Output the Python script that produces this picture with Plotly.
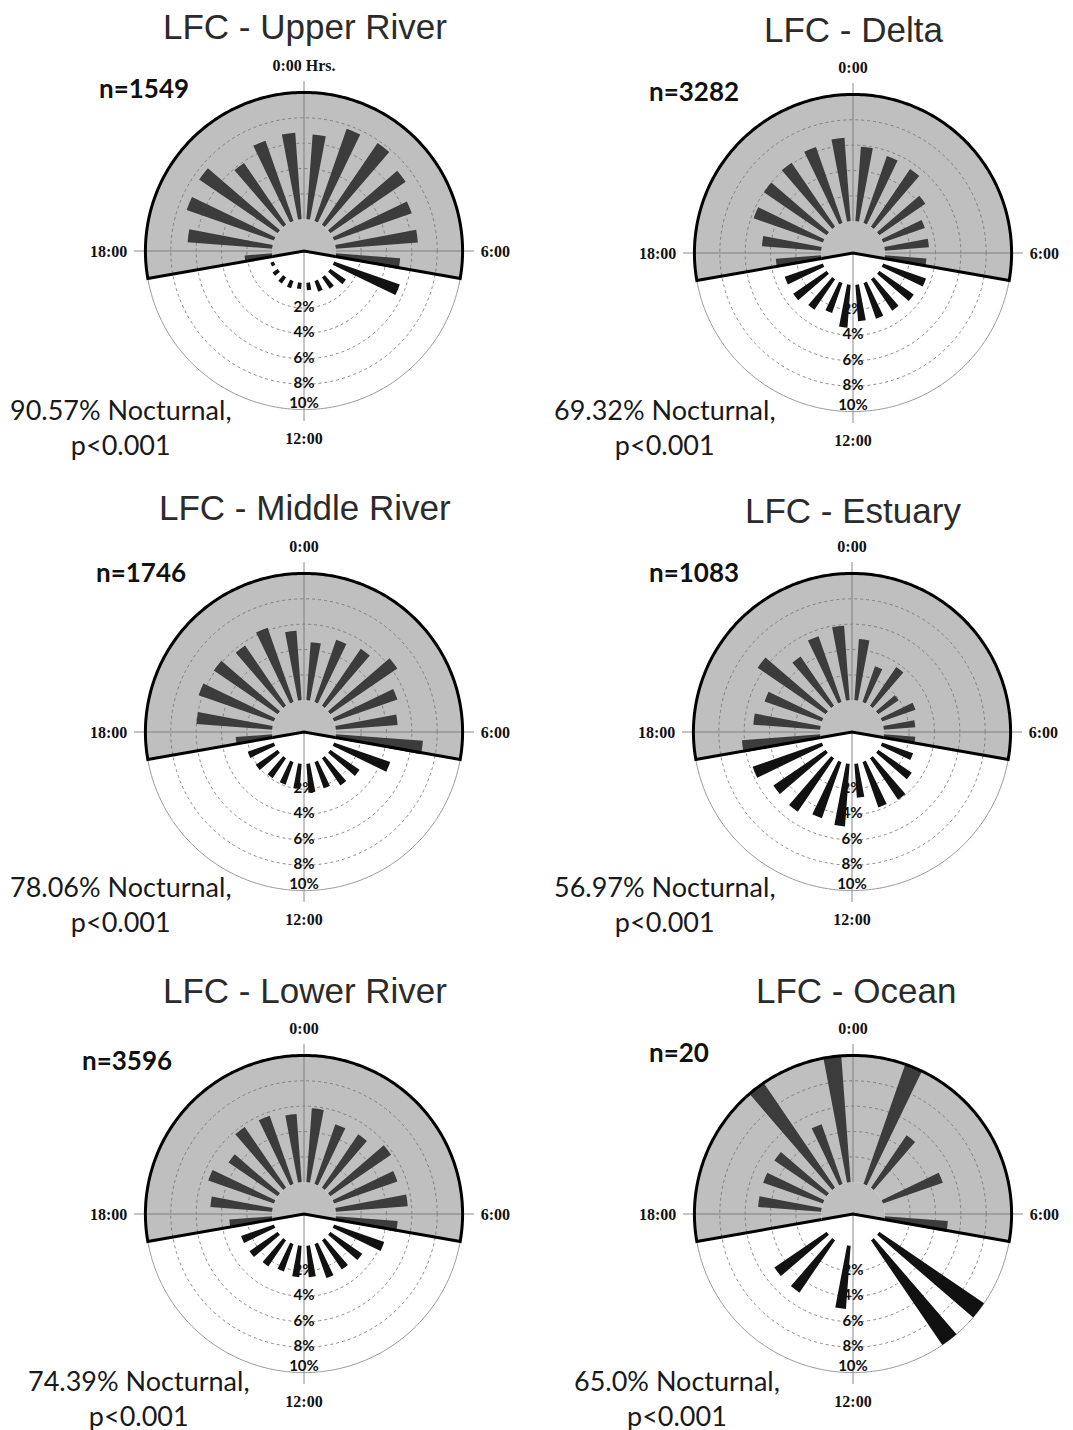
import numpy as np
import plotly.graph_objects as go

W, H = 1073, 1430

# ---------------- data ----------------
HOUR_BINS = [h + 0.5 for h in range(24)]           # bin centres (hours)
TITLES = ["LFC - Upper River", "LFC - Delta", "LFC - Middle River",
          "LFC - Estuary", "LFC - Lower River", "LFC - Ocean"]
N_LABELS = ["n=1549", "n=3282", "n=1746", "n=1083", "n=3596", "n=20"]
NOCT_LABELS = ["90.57% Nocturnal,", "69.32% Nocturnal,", "78.06% Nocturnal,",
               "56.97% Nocturnal,", "74.39% Nocturnal,", "65.0% Nocturnal,"]
P_LABEL = "p<0.001"

upper_river = [6.7, 7.7, 7.8, 7.2, 6.5, 6.5, 5.1, 5.5, 1.5, 1.1, 0.9, 0.6,
               0.5, 0.6, 0.6, 0.5, 0.3, 2.2, 6.7, 7.3, 7.5, 5.9, 6.7, 6.85]
delta = [5.9, 5.6, 5.5, 4.4, 3.5, 3.5, 3.3, 3.6, 3.3, 3.0, 3.0, 2.9,
         3.4, 2.5, 2.9, 3.2, 3.2, 3.6, 4.7, 5.8, 6.0, 6.1, 6.35, 6.6]
middle_river = [4.6, 5.2, 5.45, 6.4, 5.3, 4.9, 6.9, 4.7, 2.8, 2.6, 2.2, 2.3,
                2.0, 1.9, 1.9, 2.1, 2.2, 2.9, 6.0, 6.3, 6.1, 5.75, 6.2, 5.5]
estuary = [4.85, 3.0, 3.7, 1.95, 2.8, 2.5, 2.5, 2.6, 3.2, 3.95, 3.8, 2.7,
           4.96, 4.7, 5.1, 5.0, 5.8, 6.2, 5.3, 4.8, 6.5, 4.7, 5.5, 5.9]
lower_river = [5.85, 5.0, 5.1, 5.8, 5.3, 5.7, 4.9, 4.2, 3.05, 2.8, 2.85, 2.5,
               2.5, 2.3, 2.5, 2.7, 2.75, 3.4, 4.9, 5.5, 4.7, 5.8, 5.7, 5.4]
ocean = [0, 10, 5, 0, 5, 0, 5, 0, 10, 10, 0, 0,
         5, 0, 5, 5, 0, 0, 5, 5, 5, 10, 5, 10]
SERIES = [upper_river, delta, middle_river, estuary, lower_river, ocean]

RADIAL_TICKS = [2, 4, 6, 8, 10]
ANGLE_TICKS = [0, 90, 180, 270]
ANGLE_TEXT_FIRST = ["0:00 Hrs.", "6:00", "12:00", "18:00"]
ANGLE_TEXT = ["0:00", "6:00", "12:00", "18:00"]
NIGHT_START, NIGHT_END = 17 + 20 / 60, 6 + 40 / 60   # shaded night period (hours)

# ---------------- geometry / style ----------------
OFF = 8   # page body margin in the browser
R_MIN, R_OUT, R_MAX = -2.5, 10, 10.9
HOLE = -R_MIN / (R_MAX - R_MIN)
R_PX = 170
CENTERS = [(304, 251), (853, 253), (304, 732), (852, 732), (304, 1214), (853, 1214)]
TITLE_POS = [(305, 27), (853, 30), (305, 508), (853, 510), (305, 990), (856, 990)]
N_POS = [(97, 88), (647, 91), (94, 572), (647, 572), (80, 1060), (647, 1052)]
NOCT_POS = [(121, 427), (665, 427), (121, 904), (665, 904), (139, 1398), (677, 1398)]
BAR_W = 6.5
GRID = "#8c8c8c"
NIGHT_FILL = "rgba(113,113,113,0.45)"
NIGHT_OPAQUE = "#bfbfbf"


def fx(px):
    return (px - OFF) / W


def fy(py):
    return 1 - (py - OFF) / H


fig = go.Figure()
layout = dict(width=W, height=H, margin=dict(l=0, r=0, t=0, b=0),
              paper_bgcolor="white", showlegend=False)

theta_bins = [h * 15 for h in HOUR_BINS]
night_width = ((24 - NIGHT_START) + NIGHT_END) * 15
night_mid = ((NIGHT_START + ((24 - NIGHT_START) + NIGHT_END) / 2) % 24) * 15
th_a, th_b = night_mid - night_width / 2, night_mid + night_width / 2
lab_r = [min(v, R_OUT - 0.4) for v in RADIAL_TICKS]
ring_t = np.linspace(0, 360, 361)
arc_t = np.linspace(th_a, th_b, 201)

# ---- base polars: grid, labels, centre part of the night wedge ----
for i in range(6):
    sp = f"polar{i + 1}"
    fig.add_trace(go.Scatterpolar(r=[R_OUT] * len(ring_t), theta=ring_t, mode="lines",
                                  line=dict(color="#9a9a9a", width=1),
                                  hoverinfo="skip", subplot=sp))
    fig.add_trace(go.Scatterpolar(r=lab_r, theta=[180] * len(RADIAL_TICKS), mode="text",
                                  text=[f"{v}%" for v in RADIAL_TICKS],
                                  textfont=dict(family="Lato", size=15, color="#111",
                                                weight="bold"),
                                  hoverinfo="skip", subplot=sp))
    # wedge inside the hole (centre to r=0)
    fig.add_trace(go.Scatterpolar(r=[R_MIN] + [0] * len(arc_t) + [R_MIN],
                                  theta=[th_a] + list(arc_t) + [th_b],
                                  mode="lines", fill="toself", fillcolor=NIGHT_OPAQUE,
                                  line=dict(width=0, color=NIGHT_OPAQUE),
                                  hoverinfo="skip", subplot=sp))
    fig.add_trace(go.Scatterpolar(r=[0, R_MIN, 0], theta=[th_a, th_a, th_b], mode="lines",
                                  line=dict(color="black", width=3),
                                  hoverinfo="skip", subplot=sp))

# ---- top polars (with hole): bars + translucent night overlay + border ----
for i in range(6):
    sp = f"polar{i + 7}"
    fig.add_trace(go.Barpolar(r=SERIES[i], theta=theta_bins, width=[BAR_W] * 24,
                              marker=dict(color="#111111", line=dict(width=0)),
                              subplot=sp))
    fig.add_trace(go.Barpolar(r=[R_OUT], theta=[night_mid], width=[night_width],
                              marker=dict(color=NIGHT_FILL, line=dict(width=0)),
                              hoverinfo="skip", subplot=sp))
    border_r = [0] + [R_OUT] * len(arc_t) + [0]
    border_t = [th_a] + list(arc_t) + [th_b]
    fig.add_trace(go.Scatterpolar(r=border_r, theta=border_t, mode="lines",
                                  line=dict(color="black", width=3),
                                  hoverinfo="skip", subplot=sp))

annotations = []
for i in range(6):
    cx, cy = CENTERS[i]
    dom = dict(x=[fx(cx - R_PX), fx(cx + R_PX)],
               y=[fy(cy + R_PX), fy(cy - R_PX)])
    layout[f"polar{i + 1}"] = dict(
        domain=dom, bgcolor="white",
        radialaxis=dict(range=[R_MIN, R_MAX], tickvals=RADIAL_TICKS[:-1],
                        showticklabels=False, ticks="", showline=False,
                        gridcolor=GRID, griddash="dot", gridwidth=1),
        angularaxis=dict(rotation=90, direction="clockwise", tickvals=ANGLE_TICKS,
                         ticktext=ANGLE_TEXT_FIRST if i == 0 else ANGLE_TEXT,
                         tickfont=dict(family="Liberation Serif", size=16,
                                       color="#111", weight="bold"),
                         ticks="outside", ticklen=3, tickcolor="rgba(0,0,0,0)",
                         showline=False, gridcolor="#8a8a8a", gridwidth=1))
    layout[f"polar{i + 7}"] = dict(
        domain=dom, bgcolor="rgba(0,0,0,0)", barmode="overlay", hole=HOLE,
        radialaxis=dict(range=[0, R_MAX], showticklabels=False, ticks="",
                        showline=False, showgrid=False),
        angularaxis=dict(rotation=90, direction="clockwise", showticklabels=False,
                         ticks="", showline=False, showgrid=False))

    tx, ty = TITLE_POS[i]
    annotations.append(dict(x=fx(tx), y=fy(ty), xref="paper", yref="paper",
                            text=TITLES[i], showarrow=False, xanchor="center",
                            yanchor="middle",
                            font=dict(family="Liberation Sans", size=35, color="#2b2b2b")))
    nx, ny = N_POS[i]
    annotations.append(dict(x=fx(nx), y=fy(ny), xref="paper", yref="paper",
                            text=N_LABELS[i], showarrow=False, xanchor="left",
                            yanchor="middle",
                            font=dict(family="Lato", size=26, color="#111", weight="bold")))
    px_, py_ = NOCT_POS[i]
    annotations.append(dict(x=fx(px_), y=fy(py_), xref="paper", yref="paper",
                            text=NOCT_LABELS[i] + "<br>" + P_LABEL, showarrow=False,
                            xanchor="center", yanchor="middle", align="center",
                            font=dict(family="Lato", size=27, color="#1a1a1a")))

layout["annotations"] = annotations
fig.update_layout(**layout)
fig.write_html("out.html")
